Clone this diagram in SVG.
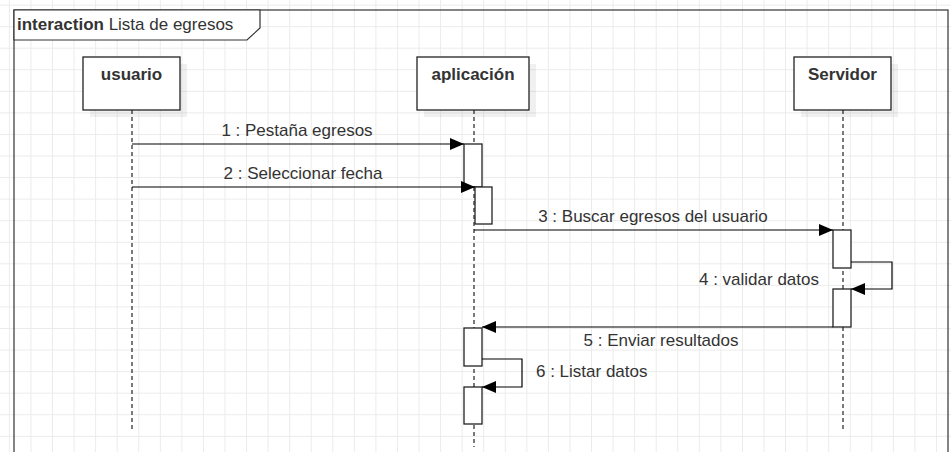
<svg xmlns="http://www.w3.org/2000/svg" width="951" height="452" viewBox="0 0 951 452">
<defs>
<pattern id="grid" x="8.9" y="4.6" width="21.56" height="21.56" patternUnits="userSpaceOnUse">
<path d="M0.5,0 V21.56 M0,0.5 H21.56" fill="none" stroke="#ebebeb" stroke-width="1"/>
</pattern>
<marker id="arr" markerWidth="14" markerHeight="12" refX="14" refY="6" orient="auto" markerUnits="userSpaceOnUse">
<path d="M0,0 L14,6 L0,12 Z" fill="#000"/>
</marker>
<style>
text{font-family:"Liberation Sans",Arial,sans-serif;font-size:17px;fill:#333}
.b{font-weight:bold}
.box{fill:#fff;stroke:#222;stroke-width:1.3}
.shadow{fill:#000;opacity:0.06}
.life{stroke:#333;stroke-width:1.3;stroke-dasharray:4 3;fill:none}
.act{fill:#fff;stroke:#222;stroke-width:1.3}
.msg{stroke:#000;stroke-width:1.2;fill:none;marker-end:url(#arr)}
</style>
</defs>
<rect width="951" height="452" fill="#fff"/>
<rect width="951" height="452" fill="url(#grid)"/>
<g id="frame">
<rect x="14" y="10" width="934" height="460" fill="none" stroke="#333" stroke-width="1.2"/>
<path d="M14,10 H260 V28 L247,40 H14 Z" fill="#fff" stroke="#333" stroke-width="1.2"/>
<text x="17" y="30"><tspan class="b">interaction</tspan> Lista de egresos</text>
</g>
<g id="lifelines">
<line class="life" x1="132" y1="110" x2="132" y2="432"/>
<line class="life" x1="474" y1="110" x2="474" y2="447"/>
<line class="life" x1="843" y1="110" x2="843" y2="432"/>
</g>
<g id="usuario">
<rect class="shadow" x="90" y="64" width="97" height="53"/>
<rect class="box" x="83" y="57" width="97" height="53"/>
<text class="b" x="131.5" y="80" text-anchor="middle">usuario</text>
</g>
<g id="aplicacion">
<rect class="shadow" x="424" y="64" width="112" height="53"/>
<rect class="box" x="417" y="57" width="112" height="53"/>
<text class="b" x="473" y="80" text-anchor="middle">aplicación</text>
</g>
<g id="servidor">
<rect class="shadow" x="801" y="64" width="97" height="53"/>
<rect class="box" x="794" y="57" width="97" height="53"/>
<text class="b" x="842.5" y="80" text-anchor="middle">Servidor</text>
</g>
<g id="activations">
<rect class="act" x="464" y="144" width="18" height="43"/>
<rect class="act" x="475" y="187" width="17" height="37"/>
<rect class="act" x="833" y="230" width="18" height="38"/>
<rect class="act" x="833" y="289" width="18" height="38"/>
<rect class="act" x="464" y="328" width="18" height="38"/>
<rect class="act" x="464" y="387" width="18" height="37"/>
</g>
<g id="connectors">
<line class="msg" x1="132" y1="144" x2="464" y2="144"/>
<line class="msg" x1="132" y1="187" x2="475" y2="187"/>
<line class="msg" x1="474" y1="230" x2="833" y2="230"/>
<path class="msg" d="M851,262 H892 V289 H851"/>
<line class="msg" x1="833" y1="327" x2="482" y2="327"/>
<path class="msg" d="M482,359 H522 V387 H482"/>
</g>
<g id="labels">
<text x="297" y="135.5" text-anchor="middle">1 : Pestaña egresos</text>
<text x="303" y="179" text-anchor="middle">2 : Seleccionar fecha</text>
<text x="653" y="222" text-anchor="middle">3 : Buscar egresos del usuario</text>
<text x="819" y="285" text-anchor="end">4 : validar datos</text>
<text x="661" y="346" text-anchor="middle">5 : Enviar resultados</text>
<text x="536" y="377">6 : Listar datos</text>
</g>
</svg>
